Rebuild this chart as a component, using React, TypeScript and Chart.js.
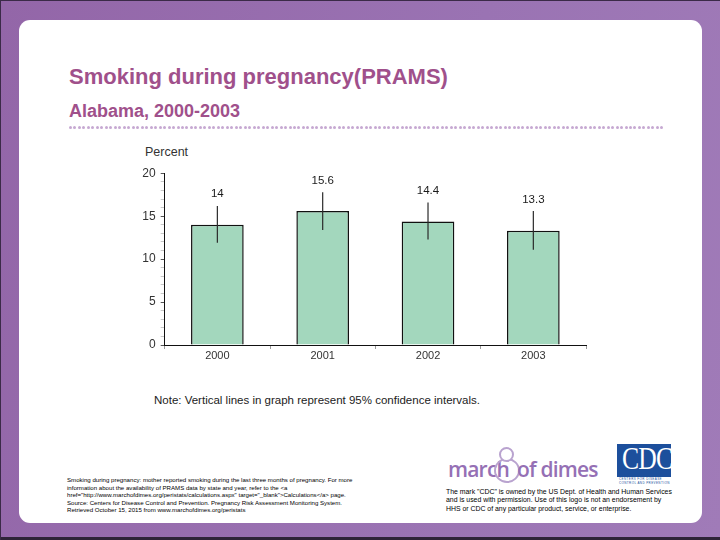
import React, { useEffect, useRef } from "react";
import { Chart, registerables } from "chart.js";

Chart.register(...registerables);

const years = ["2000", "2001", "2002", "2003"];
const percent = [14, 15.6, 14.4, 13.3];
const ciLower = [11.9, 13.4, 12.3, 11.1];
const ciUpper = [16.2, 17.8, 16.6, 15.6];
const yMin = 0;
const yMax = 20;

const FONT = "'Liberation Sans', Arial, sans-serif";

const errorBarPlugin = {
  id: "errorBars",
  afterDatasetsDraw(chart: any) {
    const { ctx } = chart;
    const meta = chart.getDatasetMeta(0);
    const yScale = chart.scales.y;
    ctx.save();
    meta.data.forEach((bar: any, i: number) => {
      const x = bar.x;
      const yLo = yScale.getPixelForValue(ciLower[i]);
      const yHi = yScale.getPixelForValue(ciUpper[i]);
      ctx.strokeStyle = "#2a2a2a";
      ctx.lineWidth = 1.2;
      ctx.beginPath();
      ctx.moveTo(x, yLo);
      ctx.lineTo(x, yHi);
      ctx.stroke();
      ctx.fillStyle = "#1a1a1a";
      ctx.font = `11.5px ${FONT}`;
      ctx.textAlign = "center";
      ctx.textBaseline = "alphabetic";
      ctx.fillText(String(percent[i]), x, yHi - 8.5);
    });
    ctx.restore();
  },
};

function DottedRule() {
  const dots = [];
  for (let i = 0; i < 133; i++) {
    dots.push(
      <div
        key={i}
        style={{
          position: "absolute",
          left: i * 4.48,
          top: 0,
          width: 3,
          height: 3,
          borderRadius: "50%",
          background: "#c6a9d2",
        }}
      />
    );
  }
  return (
    <div style={{ position: "absolute", left: 69, top: 126, width: 600, height: 3 }}>{dots}</div>
  );
}

export default function App() {
  const canvasRef = useRef<HTMLCanvasElement>(null);

  useEffect(() => {
    if (!canvasRef.current) return;
    const chart = new Chart(canvasRef.current, {
      type: "bar",
      data: {
        labels: years,
        datasets: [
          {
            data: percent,
            backgroundColor: "#a3d7bd",
            borderColor: "#111",
            borderWidth: 1.5,
            barPercentage: 0.5,
            categoryPercentage: 1,
          },
        ],
      },
      options: {
        animation: false,
        responsive: false,
        devicePixelRatio: 1,
        layout: { padding: { top: 33.3, right: 4, left: 0, bottom: 0 } },
        plugins: {
          legend: { display: false },
          tooltip: { enabled: false },
          title: { display: false },
        },
        scales: {
          x: {
            grid: {
              offset: true,
              drawOnChartArea: false,
              tickLength: 4,
              color: "#9a9a9a",
            },
            border: { color: "#111", width: 1 },
            ticks: {
              color: "#333",
              font: { family: FONT, size: 11 },
              padding: 0,
            },
            afterFit: (s: any) => {
              s.height = 25;
            },
          },
          y: {
            min: yMin,
            max: yMax,
            grid: {
              drawOnChartArea: false,
              tickLength: 4,
              color: (c: any) => (c.tick && c.tick.value % 5 === 0 ? "#555" : "#c8c8c8"),
            },
            border: { color: "#111", width: 1 },
            ticks: {
              stepSize: 1,
              autoSkip: false,
              color: "#333",
              font: { family: FONT, size: 12 },
              padding: 5,
              callback: (v: any) => (Number(v) % 5 === 0 ? String(v) : ""),
            },
            afterFit: (s: any) => {
              s.width = 34.7;
            },
          },
        },
      },
      plugins: [errorBarPlugin],
    });
    return () => chart.destroy();
  }, []);

  const abs = (o: React.CSSProperties): React.CSSProperties => ({ position: "absolute", ...o });

  return (
    <div
      style={{
        position: "fixed",
        left: 0,
        top: 0,
        width: 720,
        height: 540,
        background: "linear-gradient(100deg, #9366a8 0%, #9a73b3 60%, #a07bb8 100%)",
        overflow: "hidden",
        fontFamily: FONT,
      }}
    >
      <div style={abs({ left: 0, top: 0, width: 720, height: 1, background: "#3b2a48" })} />
      <div style={abs({ left: 0, top: 537, width: 720, height: 3, background: "#2e2438" })} />
      <div style={abs({ left: 0, top: 0, width: 1, height: 540, background: "#3b2a48" })} />
      <div
        style={abs({
          left: 19,
          top: 20,
          width: 683,
          height: 503,
          background: "#fff",
          borderRadius: 11,
        })}
      />
      <div
        style={abs({
          left: 69,
          top: 64,
          fontSize: 22,
          fontWeight: "bold",
          color: "#a0508b",
          whiteSpace: "nowrap",
        })}
      >
        Smoking during pregnancy(PRAMS)
      </div>
      <div
        style={abs({
          left: 69,
          top: 101,
          fontSize: 18,
          fontWeight: "bold",
          color: "#a0508b",
          whiteSpace: "nowrap",
        })}
      >
        Alabama, 2000-2003
      </div>
      <DottedRule />
      <div style={abs({ left: 145, top: 145, fontSize: 12.5, color: "#333" })}>Percent</div>
      <canvas
        ref={canvasRef}
        width={460}
        height={230}
        style={abs({ left: 130, top: 140, width: 460, height: 230 })}
      />
      <div style={abs({ left: 154, top: 394, fontSize: 11.5, color: "#222", whiteSpace: "nowrap" })}>
        Note: Vertical lines in graph represent 95% confidence intervals.
      </div>
      <div
        style={abs({
          left: 67,
          top: 476,
          fontSize: 6.1,
          lineHeight: "7.5px",
          color: "#000",
          whiteSpace: "nowrap",
        })}
      >
        <div>Smoking during pregnancy: mother reported smoking during the last three months of pregnancy. For more</div>
        <div>information about the availability of PRAMS data by state and year, refer to the &lt;a</div>
        <div>href="http://www.marchofdimes.org/peristats/calculations.aspx" target="_blank"&gt;Calculations&lt;/a&gt; page.</div>
        <div>Source: Centers for Disease Control and Prevention. Pregnancy Risk Assessment Monitoring System.</div>
        <div>Retrieved October 15, 2015 from www.marchofdimes.org/peristats</div>
      </div>
      <div
        style={abs({
          left: 446,
          top: 488,
          fontSize: 6.9,
          lineHeight: "8.4px",
          color: "#000",
          whiteSpace: "nowrap",
        })}
      >
        <div>The mark "CDC" is owned by the US Dept. of Health and Human Services</div>
        <div>and is used with permission. Use of this logo is not an endorsement by</div>
        <div>HHS or CDC of any particular product, service, or enterprise.</div>
      </div>
      {/* march of dimes logo */}
      <div
        style={abs({
          left: 448,
          top: 455,
          fontSize: 21,
          fontWeight: 600,
          color: "#9570b5",
          letterSpacing: -0.8,
          whiteSpace: "nowrap",
          fontFamily: "'Open Sans', 'Liberation Sans', sans-serif",
        })}
      >
        march
      </div>
      <div
        style={abs({
          left: 494,
          top: 458,
          width: 22,
          height: 21,
          borderRadius: "50%",
          border: "2px solid #b9a3cf",
        })}
      />
      <div
        style={abs({
          left: 499,
          top: 447,
          width: 11,
          height: 11,
          borderRadius: "50%",
          border: "2px solid #b9a3cf",
          background: "#fff",
        })}
      />
      <div
        style={abs({
          left: 517,
          top: 455,
          fontSize: 21,
          fontWeight: 600,
          color: "#9570b5",
          letterSpacing: -0.8,
          whiteSpace: "nowrap",
          fontFamily: "'Open Sans', 'Liberation Sans', sans-serif",
        })}
      >
        of dimes
      </div>
      {/* CDC logo */}
      <div
        style={abs({
          left: 617,
          top: 444,
          width: 54,
          height: 33,
          background: "#1c4f9c",
        })}
      />
      <div
        style={abs({
          left: 622,
          top: 440,
          fontSize: 32,
          fontFamily: "'Liberation Serif', serif",
          color: "#fff",
          letterSpacing: -1,
          transform: "scaleX(0.8)",
          transformOrigin: "left top",
          whiteSpace: "nowrap",
        })}
      >
        CDC
      </div>
      <div
        style={abs({
          left: 619,
          top: 478,
          fontSize: 3,
          lineHeight: "3.5px",
          color: "#1c4f9c",
          whiteSpace: "nowrap",
          letterSpacing: 0.4,
        })}
      >
        <div>CENTERS FOR DISEASE</div>
        <div>CONTROL AND PREVENTION</div>
      </div>
    </div>
  );
}
